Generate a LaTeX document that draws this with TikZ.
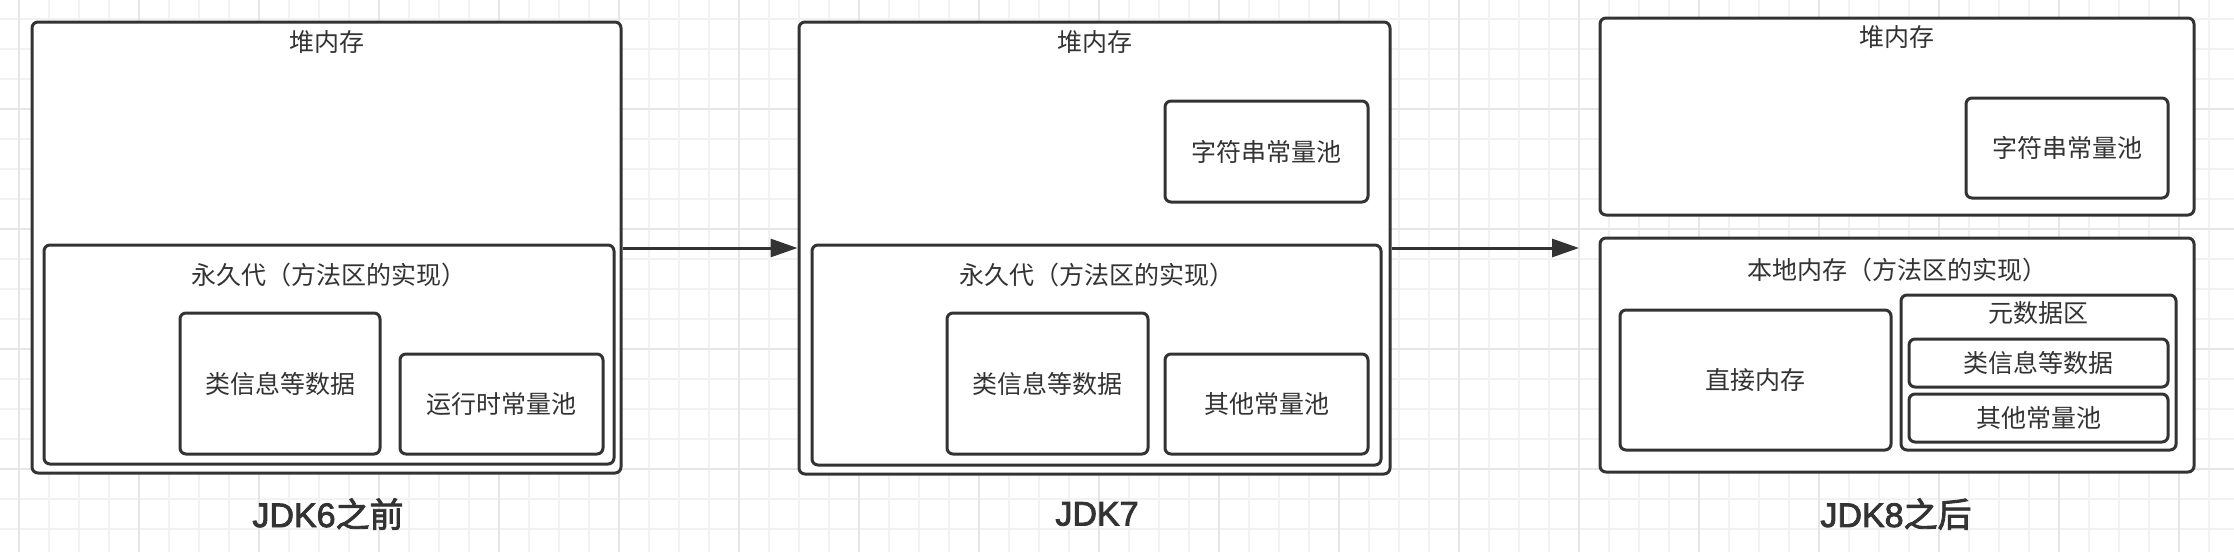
\documentclass[tikz,border=0pt]{standalone}
\usepackage{fontspec}
\newfontfamily\cjk{Noto Sans CJK SC}
\newfontfamily\cjkt[FakeBold=2.5]{Noto Sans CJK SC}
\newfontfamily\latt[FakeBold=2.5]{Liberation Sans}
\usetikzlibrary{arrows.meta,calc,fit}
\definecolor{ink}{HTML}{333333}
\definecolor{gridminor}{HTML}{F2F2F2}
\definecolor{gridmajor}{HTML}{E6E6E6}
\begin{document}
\begin{tikzpicture}[x=1pt,y=-1pt,
  box/.style={draw=ink, line width=3pt, fill=white, rounded corners=6pt, inner sep=0pt},
  txt/.style={font=\cjk\fontsize{25}{30}\selectfont, text=ink, inner sep=0pt},
  intxt/.style={label={[txt]center:#1}},
  ttl/.style={font=\fontsize{34}{40}\selectfont, text=ink, inner sep=0pt},
  arr/.style={draw=ink, line width=3pt, -{Triangle[length=27pt,width=18pt]}},
  gmin/.style={draw=gridminor, line width=1.5pt},
  gmaj/.style={draw=gridmajor, line width=1.5pt}]
\useasboundingbox (0,0) rectangle (2234,552);
\fill[white] (0,0) rectangle (2234,552);
% grid
\foreach \x in {19,49,...,2234} \draw[gmin] (\x,0) -- (\x,552);
\foreach \y in {19,49,...,552} \draw[gmin] (0,\y) -- (2234,\y);
\foreach \x in {19,139,...,2234} \draw[gmaj] (\x,0) -- (\x,552);
\foreach \y in {109,229,...,552} \draw[gmaj] (0,\y) -- (2234,\y);

% ---------- Panel 1: JDK6 ----------
\node[box, fit={(32,22) (621,473)}] (h1) {};
\node[txt] (h1l) at ($(h1.north)+(0,22)$) {堆内存};
\node[box, fit={(44,245) (614,464)}] (p1) {};
\node[txt] (p1l) at ($(p1.north)+(0,31)$) {永久代（方法区的实现）};
\node[box, fit={(180,313) (380,454)}, intxt={类信息等数据}] (c1) {};
\node[box, fit={(400,354) (603,454)}, intxt={运行时常量池}] (r1) {};
\node[ttl] (t1) at (328,514) {{\latt JDK6}{\cjkt 之前}};

% ---------- Panel 2: JDK7 ----------
\node[box, fit={(799,22) (1390,474)}] (h2) {};
\node[txt] (h2l) at ($(h2.north)+(0,22)$) {堆内存};
\node[box, fit={(1165,101) (1368,202)}, intxt={字符串常量池}] (s2) {};
\node[box, fit={(812,245) (1381,465)}] (p2) {};
\node[txt] (p2l) at ($(p2.north)+(0,31)$) {永久代（方法区的实现）};
\node[box, fit={(947,313) (1148,454)}, intxt={类信息等数据}] (c2) {};
\node[box, fit={(1165,354) (1368,454)}, intxt={其他常量池}] (o2) {};
\node[ttl] (t2) at (1097,514) {\latt JDK7};

% ---------- Panel 3: JDK8 ----------
\node[box, fit={(1600,18) (2194,215)}] (h3) {};
\node[txt] (h3l) at ($(h3.north)+(0,21)$) {堆内存};
\node[box, fit={(1966,98) (2168,198)}, intxt={字符串常量池}] (s3) {};
\node[box, fit={(1600,238) (2194,472)}] (n3) {};
\node[txt] (n3l) at ($(n3.north)+(0,33)$) {本地内存（方法区的实现）};
\node[box, fit={(1620,310) (1891,450)}, intxt={直接内存}] (d3) {};
\node[box, fit={(1901,295) (2176,450)}] (m3) {};
\node[txt] (m3l) at ($(m3.north)+(0,20)$) {元数据区};
\node[box, fit={(1909,339) (2168,387)}, intxt={类信息等数据}] (c3) {};
\node[box, fit={(1909,394) (2168,442)}, intxt={其他常量池}] (o3) {};
\node[ttl] (t3) at (1896,514) {{\latt JDK8}{\cjkt 之后}};

% ---------- arrows ----------
\coordinate (a2e) at (1579,248);
\draw[arr] (h1.east |- 0,248) -- (h2.west |- 0,248);
\draw[arr] (h2.east |- 0,248) -- (a2e);
\end{tikzpicture}
\end{document}
